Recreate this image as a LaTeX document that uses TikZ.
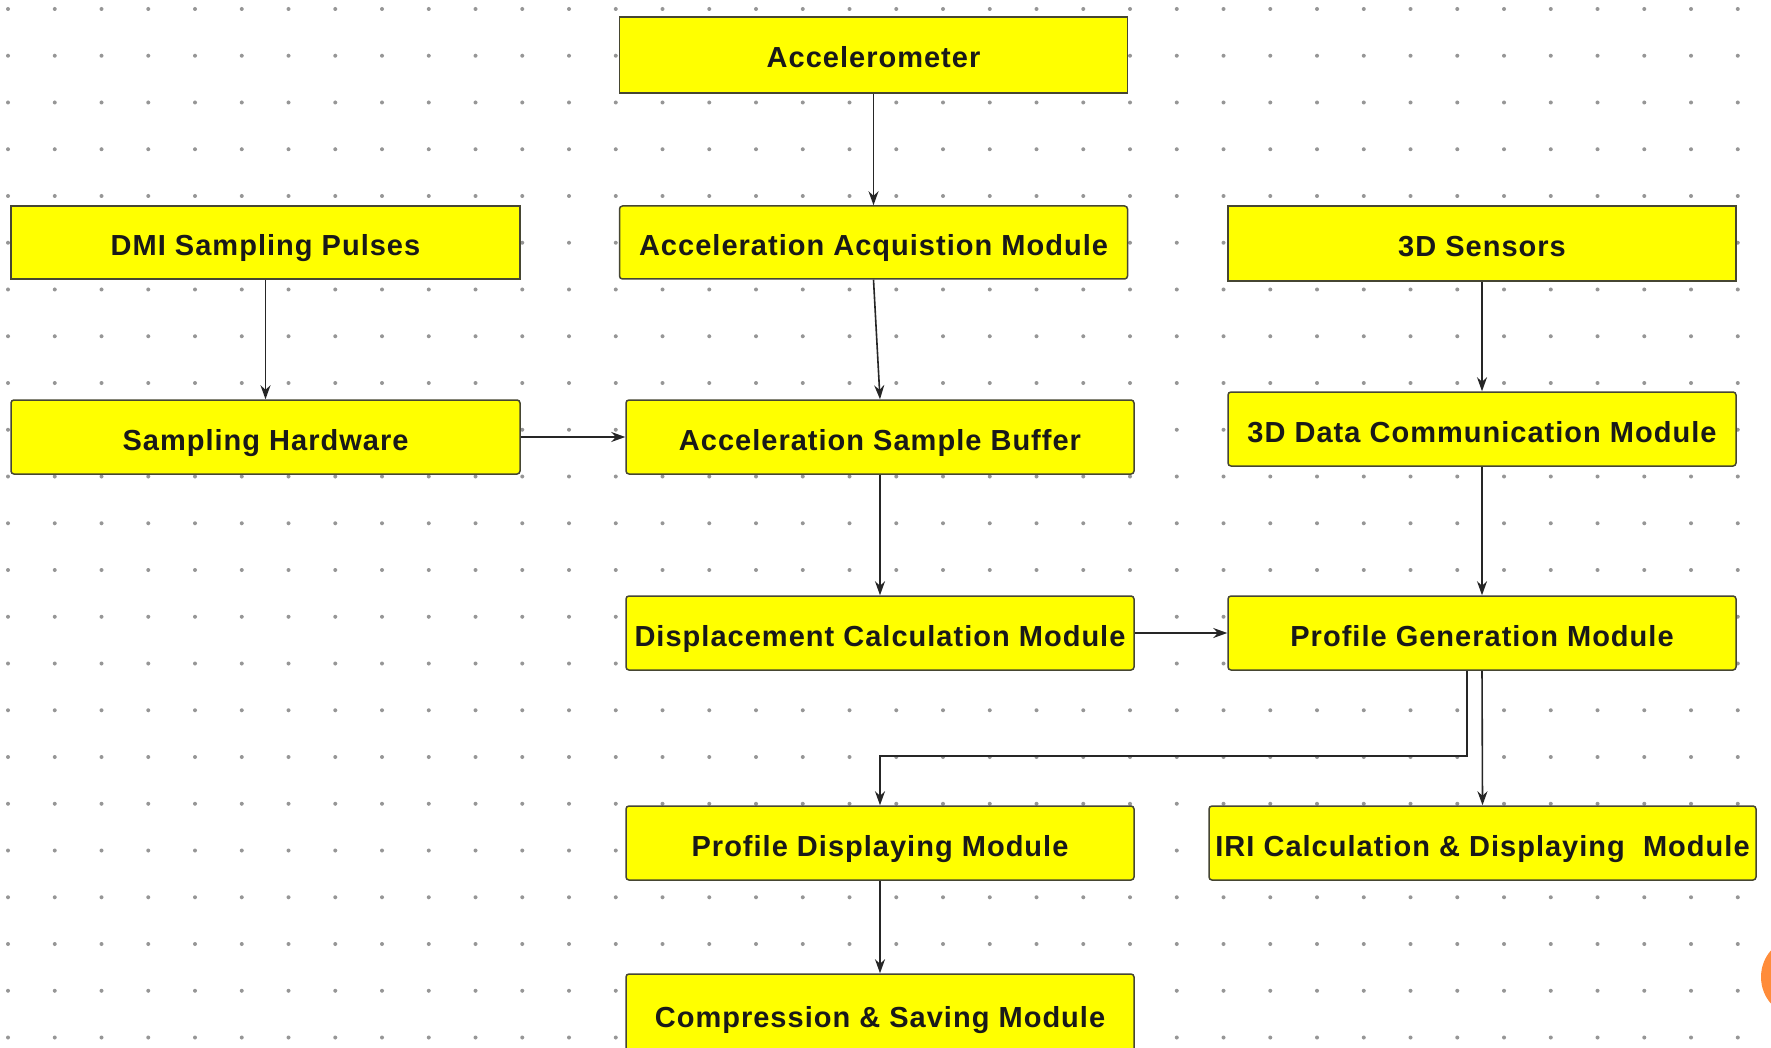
\documentclass[tikz,border=0pt]{standalone}
\usepackage{fontspec}
\setmainfont{Liberation Sans}
\newfontfamily\boxfont[LetterSpace=3.5]{Liberation Sans}
\usetikzlibrary{arrows.meta}
\definecolor{boxborder}{RGB}{70,70,50}
\definecolor{boxfill}{RGB}{255,255,0}
\definecolor{dotgray}{RGB}{150,150,150}
\definecolor{orangeblob}{RGB}{255,140,58}
\begin{document}
\begin{tikzpicture}[x=1pt,y=-1pt,
  box/.style={draw=boxborder, fill=boxfill, line width=1.5pt, rounded corners=3pt,
    minimum width=508pt, minimum height=74pt, inner sep=0pt,
    text height=26pt, text depth=0pt,
    font=\boxfont\fontsize{29}{34}\selectfont\bfseries, text=black!90},
  arr/.style={-{Stealth[length=14pt,width=10pt]}, line width=1.6pt, draw=black!85}]
\useasboundingbox (0,0) rectangle (1771,1048);
\clip (0,0) rectangle (1771,1048);
\fill[white] (0,0) rectangle (1771,1048);
\foreach \i in {0,...,37} \foreach \j in {0,...,22}
  \fill[dotgray] (8+46.75*\i, 9+46.75*\j) circle (2);
\fill[orangeblob] (1796,977) ellipse (35 and 38);

\node[box, rounded corners=0pt, minimum height=76pt] (accel) at (873.5,55) {Accelerometer};
\node[box, rounded corners=0pt, minimum width=509pt, minimum height=73pt] (dmi) at (265.5,242.5) {DMI Sampling Pulses};
\node[box, minimum height=73pt] (acq) at (873.5,242.5) {Acceleration Acquistion Module};
\node[box, rounded corners=0pt, minimum height=75pt] (sens) at (1482,243.5) {3D Sensors};
\node[box, minimum width=509pt] (samp) at (265.5,437) {Sampling Hardware};
\node[box] (buf) at (880,437) {Acceleration Sample Buffer};
\node[box] (comm) at (1482,429) {3D Data Communication Module};
\node[box] (disp) at (880,633) {Displacement Calculation Module};
\node[box] (gen) at (1482,633) {Profile Generation Module};
\node[box] (pdisp) at (880,843) {Profile Displaying Module};
\node[box, minimum width=547pt] (iri) at (1482.5,843) {IRI Calculation \& Displaying\ \ Module};
\node[box, minimum height=80pt] (comp) at (880,1014) {Compression \& Saving Module};

\coordinate (bend) at (880,756);
\draw[arr] (accel) -- (acq);
\draw[arr] (acq.south) -- (buf.north);
\draw[arr] (dmi) -- (samp);
\draw[arr] (samp) -- (buf);
\draw[arr] (buf) -- (disp);
\draw[arr] (disp) -- (gen);
\draw[arr] (sens) -- (comm);
\draw[arr] (comm) -- (gen);
\draw[arr] ([xshift=-15pt]gen.south) |- (bend) -- (pdisp.north);
\draw[arr] (gen.south) -- (iri.north);
\draw[arr] (pdisp) -- (comp);
\end{tikzpicture}
\end{document}
